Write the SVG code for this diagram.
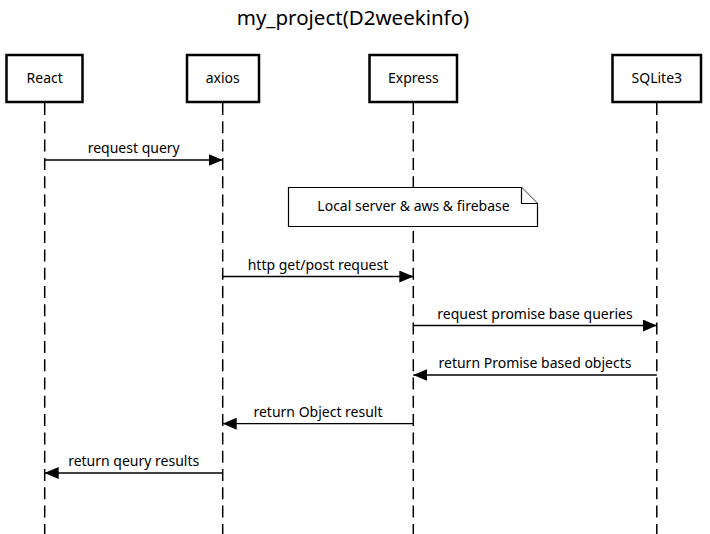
<svg xmlns="http://www.w3.org/2000/svg" width="710" height="534" viewBox="0 0 710 534">
<style>
  text { font-family: "Noto Sans", "Open Sans", sans-serif; fill: #000; }
  .title { font-size: 20.5px; text-anchor: middle; }
  .lbl { font-size: 14px; text-anchor: middle; }
  .box { fill: #fff; stroke: #000; stroke-width: 2.5; }
  .life { stroke: #000; stroke-width: 1.5; stroke-dasharray: 12 6.3; fill: none; }
  .msg { stroke: #000; stroke-width: 1.3; fill: none; }
  .note { fill: #fff; stroke: #000; stroke-width: 1.2; }
</style>
<defs>
  <marker id="ah" markerWidth="14" markerHeight="12" refX="14" refY="6" orient="auto" markerUnits="userSpaceOnUse">
    <path d="M0,0 L14,6 L0,12 Z" fill="#000"/>
  </marker>
</defs>
<rect width="710" height="534" fill="#fff"/>
<text class="title" x="353" y="25">my_project(D2weekinfo)</text>

<g id="lifelines">
  <line class="life" x1="44.7" y1="103" x2="44.7" y2="534"/>
  <line class="life" x1="222.7" y1="103" x2="222.7" y2="534"/>
  <line class="life" x1="413.3" y1="103" x2="413.3" y2="534"/>
  <line class="life" x1="656.8" y1="103" x2="656.8" y2="534"/>
</g>

<g id="React">
  <rect class="box" x="6.5" y="55" width="76" height="47"/>
  <text class="lbl" x="44.7" y="83">React</text>
</g>
<g id="axios">
  <rect class="box" x="187" y="55" width="72" height="47"/>
  <text class="lbl" x="222.7" y="83">axios</text>
</g>
<g id="Express">
  <rect class="box" x="369.5" y="55" width="87.5" height="47"/>
  <text class="lbl" x="413.3" y="83">Express</text>
</g>
<g id="SQLite3">
  <rect class="box" x="612.5" y="55" width="88.5" height="47"/>
  <text class="lbl" x="656.8" y="83">SQLite3</text>
</g>

<g id="note">
  <path class="note" d="M288.5,187.5 L521.5,187.5 L537.5,203.5 L537.5,226.5 L288.5,226.5 Z"/>
  <path class="note" d="M521.5,187.5 L521.5,203.5 L537.5,203.5" fill="none"/>
  <text class="lbl" x="413.5" y="211">Local server &amp; aws &amp; firebase</text>
</g>

<g id="connectors">
  <line class="msg" x1="44.7" y1="160" x2="222.7" y2="160" marker-end="url(#ah)"/>
  <text class="lbl" x="133.7" y="153">request query</text>

  <line class="msg" x1="222.7" y1="276.5" x2="413.3" y2="276.5" marker-end="url(#ah)"/>
  <text class="lbl" x="318" y="269.5">http get/post request</text>

  <line class="msg" x1="413.3" y1="325.5" x2="656.8" y2="325.5" marker-end="url(#ah)"/>
  <text class="lbl" x="535" y="318.5">request promise base queries</text>

  <line class="msg" x1="656.8" y1="375" x2="413.3" y2="375" marker-end="url(#ah)"/>
  <text class="lbl" x="535" y="368">return Promise based objects</text>

  <line class="msg" x1="413.3" y1="423.7" x2="222.7" y2="423.7" marker-end="url(#ah)"/>
  <text class="lbl" x="318" y="416.7">return Object result</text>

  <line class="msg" x1="222.7" y1="473" x2="44.7" y2="473" marker-end="url(#ah)"/>
  <text class="lbl" x="133.7" y="466">return qeury results</text>
</g>
</svg>
